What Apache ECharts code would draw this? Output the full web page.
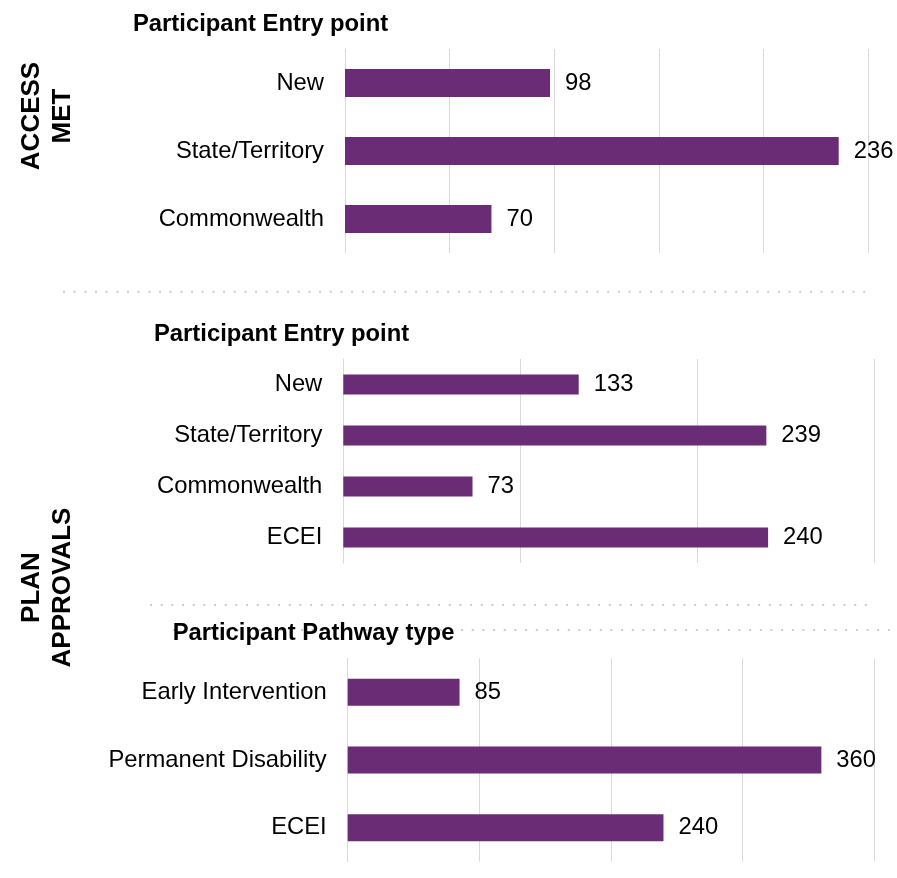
<!DOCTYPE html>
<html>
<head>
<meta charset="utf-8">
<script src="https://cdn.jsdelivr.net/npm/echarts@6/dist/echarts.min.js"></script>
<style>
html,body{margin:0;padding:0;background:#fff;}
#c{width:897px;height:878px;}
</style>
</head>
<body>
<div id="c"></div>
<script>
// ---- data ----
const accessCats = ['New', 'State/Territory', 'Commonwealth'];
const accessVals = [98, 236, 70];
const entryCats = ['New', 'State/Territory', 'Commonwealth', 'ECEI'];
const entryVals = [133, 239, 73, 240];
const pathwayCats = ['Early Intervention', 'Permanent Disability', 'ECEI'];
const pathwayVals = [85, 360, 240];
const panelTitles = ['Participant Entry point', 'Participant Entry point', 'Participant Pathway type'];
const sideLabels = [['ACCESS', 'MET'], ['PLAN', 'APPROVALS']];
const axisMax = [250, 300, 400];
const axisStep = [50, 100, 100];

// ---- styling ----
const FONT = 'Arial, "Liberation Sans", sans-serif';
const FS = 23.8;
const BAR = '#6A2C74';
const GRID = '#d9d9d9';
const DOT = '#cccccc';

const chart = echarts.init(document.getElementById('c'), null, {renderer: 'canvas'});

const grids = [
  {left: 345, top: 49, width: 523, height: 204},
  {left: 343.3, top: 359, width: 531, height: 204},
  {left: 347.7, top: 658.3, width: 526.3, height: 203.4}
];
const cats = [accessCats, entryCats, pathwayCats];
const vals = [accessVals, entryVals, pathwayVals];
const barW = ['41%', '39%', '40%'];

const xAxes = grids.map((g, i) => ({
  type: 'value', gridIndex: i, min: 0, max: axisMax[i], interval: axisStep[i],
  axisLabel: {show: false}, axisTick: {show: false}, axisLine: {show: false},
  splitLine: {show: true, lineStyle: {color: GRID, width: 1}}
}));
const yAxes = grids.map((g, i) => ({
  type: 'category', gridIndex: i, inverse: true, data: cats[i],
  axisTick: {show: false},
  axisLine: {show: true, lineStyle: {color: GRID, width: 1}},
  axisLabel: {fontFamily: FONT, fontSize: FS, color: '#000', margin: 21}
}));
const series = grids.map((g, i) => ({
  type: 'bar', xAxisIndex: i, yAxisIndex: i, data: vals[i], barWidth: barW[i],
  itemStyle: {color: BAR},
  label: {show: true, position: 'right', distance: 15, fontFamily: FONT, fontSize: FS, color: '#000'},
  silent: true, animation: false
}));

function dotted(x1, x2, y) {
  return {type: 'line', z: 1, silent: true,
    shape: {x1: x1, y1: y, x2: x2, y2: y},
    style: {stroke: DOT, lineWidth: 2, lineDash: [2, 8.67]}};
}
function title(txt, x, y) {
  return {type: 'text', z: 10, x: x, y: y,
    style: {text: txt, font: 'bold ' + FS + 'px ' + FONT, fill: '#000', align: 'left', verticalAlign: 'middle'}};
}
function side(txt, x, y) {
  return {type: 'text', z: 10, x: x, y: y, rotation: Math.PI / 2,
    style: {text: txt, font: 'bold 26px ' + FONT, fill: '#000', align: 'center', verticalAlign: 'middle'}};
}

const graphics = [
  dotted(63, 866, 291.7),
  dotted(150, 870, 605),
  dotted(173, 897, 630),
  title(panelTitles[0], 133, 24),
  title(panelTitles[1], 154, 334.5),
  title(panelTitles[2], 172.7, 633.5),
  side(sideLabels[0][0], 32, 116),
  side(sideLabels[0][1], 62.5, 116),
  side(sideLabels[1][0], 32, 587.5),
  side(sideLabels[1][1], 62.5, 587.5)
];

chart.setOption({
  animation: false,
  backgroundColor: '#fff',
  grid: grids.map(g => Object.assign({containLabel: false}, g)),
  xAxis: xAxes,
  yAxis: yAxes,
  series: series,
  graphic: graphics
});
</script>
</body>
</html>
